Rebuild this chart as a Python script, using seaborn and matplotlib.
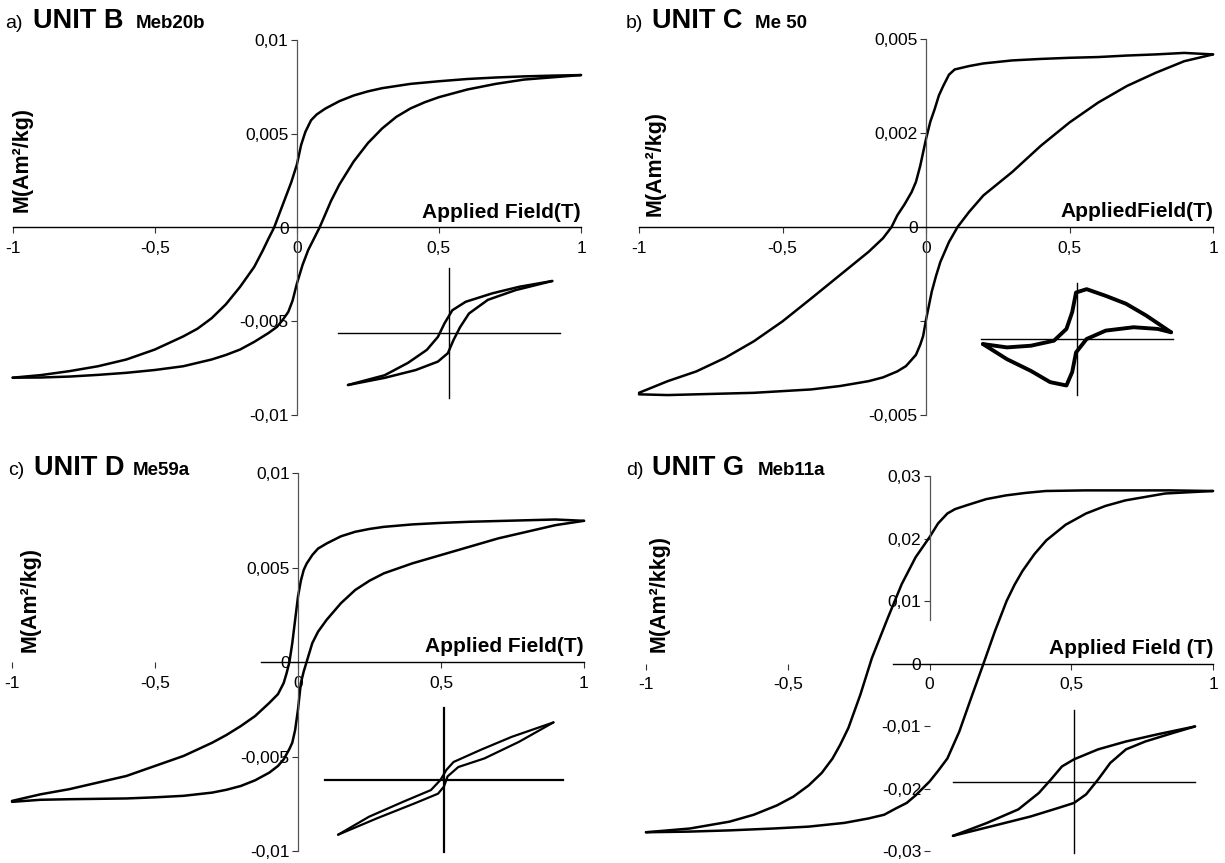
import matplotlib
matplotlib.use("Agg")
import matplotlib.pyplot as plt
import numpy as np
import pandas as pd
import seaborn as sns

sns.set_style("white")
plt.rcParams["font.family"] = ["Liberation Sans", "DejaVu Sans"]
plt.rcParams["text.color"] = "black"
plt.rcParams["xtick.color"] = "black"
plt.rcParams["ytick.color"] = "black"

# ---------------- data ----------------
x_ticks = [-1, -0.5, 0, 0.5, 1]
x_tick_labels = ["-1", "-0,5", "0", "0,5", "1"]

# Panel a) UNIT B Meb20b
a_up_H = [1.0, 0.9, 0.8, 0.7, 0.6, 0.5, 0.4, 0.3, 0.25, 0.2, 0.15, 0.1, 0.07, 0.05, 0.03,
          0.015, 0.0, -0.02, -0.04, -0.06, -0.08, -0.1, -0.12, -0.15, -0.2, -0.25, -0.3,
          -0.35, -0.4, -0.5, -0.6, -0.7, -0.8, -0.9, -1.0]
a_up_M = [0.00813, 0.0081, 0.00806, 0.008, 0.00792, 0.0078, 0.00766, 0.00743, 0.00726,
          0.00704, 0.00674, 0.00634, 0.00603, 0.00572, 0.0051, 0.0044, 0.00335, 0.0024,
          0.0016, 0.0008, 0.0, -0.0006, -0.00123, -0.0021, -0.00317, -0.0041, -0.00484,
          -0.0054, -0.00581, -0.00651, -0.00704, -0.0074, -0.00766, -0.00787, -0.00801]
a_lo_H = [-1.0, -0.9, -0.8, -0.7, -0.6, -0.5, -0.4, -0.3, -0.25, -0.2, -0.15, -0.1, -0.07,
          -0.05, -0.03, -0.015, 0.0, 0.02, 0.04, 0.06, 0.08, 0.1, 0.12, 0.15, 0.2, 0.25, 0.3,
          0.35, 0.4, 0.45, 0.5, 0.6, 0.7, 0.8, 0.9, 1.0]
a_lo_M = [-0.00801, -0.008, -0.00795, -0.00786, -0.00775, -0.0076, -0.0074, -0.00704,
          -0.0068, -0.00651, -0.0061, -0.00563, -0.0053, -0.00493, -0.0045, -0.0039, -0.003,
          -0.002, -0.0012, -0.0006, 0.0, 0.0007, 0.00141, 0.0023, 0.00352, 0.0045, 0.00528,
          0.0059, 0.00635, 0.00668, 0.00695, 0.00736, 0.00766, 0.00789, 0.00801, 0.00813]
a_in_up_x = [-0.91, -0.58, -0.37, -0.20, -0.10, -0.04, 0.03, 0.15, 0.39, 0.63, 0.93]
a_in_up_y = [-0.80, -0.65, -0.46, -0.26, -0.06, 0.15, 0.35, 0.48, 0.61, 0.71, 0.80]
a_in_lo_x = [-0.91, -0.58, -0.30, -0.10, -0.01, 0.04, 0.10, 0.18, 0.35, 0.60, 0.93]
a_in_lo_y = [-0.80, -0.69, -0.57, -0.44, -0.31, -0.11, 0.09, 0.30, 0.51, 0.66, 0.80]
a_y_ticks = [0.01, 0.005, 0, -0.005, -0.01]
a_y_labels = ["0,01", "0,005", "0", "-0,005", "-0,01"]

# Panel b) UNIT C Me 50
b_up_H = [1.0, 0.9, 0.8, 0.7, 0.6, 0.5, 0.4, 0.3, 0.2, 0.15, 0.1, 0.08, 0.06, 0.045, 0.03,
          0.015, 0.0, -0.02, -0.035, -0.05, -0.075, -0.1, -0.12, -0.15, -0.2, -0.3, -0.4,
          -0.5, -0.6, -0.7, -0.8, -0.9, -1.0]
b_up_M = [0.00459, 0.00463, 0.00459, 0.00456, 0.00452, 0.0045, 0.00447, 0.00443, 0.00435,
          0.00428, 0.00419, 0.00405, 0.00375, 0.0035, 0.00313, 0.0028, 0.00234, 0.00163,
          0.0012, 0.00093, 0.0006, 0.00031, 0.0, -0.0003, -0.00066, -0.00128, -0.0019,
          -0.00251, -0.00304, -0.00348, -0.00384, -0.0041, -0.00441]
b_lo_H = [-1.0, -0.9, -0.8, -0.6, -0.4, -0.3, -0.2, -0.15, -0.1, -0.07, -0.05, -0.035, -0.02,
          -0.01, 0.0, 0.02, 0.035, 0.05, 0.08, 0.11, 0.15, 0.2, 0.25, 0.3, 0.4, 0.5, 0.6, 0.7,
          0.8, 0.9, 1.0]
b_lo_M = [-0.00445, -0.00447, -0.00445, -0.00441, -0.00432, -0.00423, -0.0041, -0.004,
          -0.00384, -0.0037, -0.00353, -0.0034, -0.00313, -0.0029, -0.00247, -0.00172,
          -0.0013, -0.00093, -0.0004, 0.0, 0.0004, 0.00084, 0.00115, 0.00146, 0.00216,
          0.00278, 0.00331, 0.00375, 0.0041, 0.00441, 0.00459]
b_in_up_x = [-0.98, -0.73, -0.48, -0.24, -0.11, -0.05, -0.01, 0.10, 0.30, 0.51, 0.72, 0.98]
b_in_up_y = [-0.09, -0.15, -0.12, -0.03, 0.18, 0.48, 0.83, 0.89, 0.77, 0.63, 0.42, 0.12]
b_in_lo_x = [-0.98, -0.73, -0.48, -0.28, -0.11, -0.05, -0.01, 0.10, 0.30, 0.59, 0.84, 0.98]
b_in_lo_y = [-0.09, -0.36, -0.57, -0.77, -0.83, -0.59, -0.24, 0.0, 0.15, 0.21, 0.18, 0.12]
b_y_ticks = [0.005, 0.0025, 0, -0.0025, -0.005]
b_y_labels = ["0,005", "0,002", "0", "", "-0,005"]

# Panel c) UNIT D Me59a
c_up_H = [1.0, 0.9, 0.8, 0.7, 0.6, 0.5, 0.4, 0.3, 0.25, 0.2, 0.15, 0.1, 0.07, 0.05, 0.03,
          0.02, 0.01, 0.0, -0.01, -0.02, -0.03, -0.04, -0.05, -0.07, -0.1, -0.15, -0.2,
          -0.25, -0.3, -0.4, -0.5, -0.6, -0.7, -0.8, -0.9, -1.0]
c_up_M = [0.00747, 0.00754, 0.0075, 0.00746, 0.00742, 0.00736, 0.00728, 0.00715, 0.00704,
          0.00689, 0.00665, 0.00627, 0.006, 0.00566, 0.0052, 0.00487, 0.0043, 0.00346,
          0.00223, 0.001, 0.0, -0.0006, -0.00111, -0.0017, -0.00216, -0.00286, -0.00339,
          -0.00386, -0.00427, -0.00497, -0.0055, -0.00603, -0.00638, -0.00673, -0.007,
          -0.00735]
c_lo_H = [-1.0, -0.9, -0.8, -0.7, -0.6, -0.5, -0.4, -0.3, -0.25, -0.2, -0.15, -0.1, -0.07,
          -0.05, -0.03, -0.02, -0.01, 0.0, 0.01, 0.02, 0.03, 0.05, 0.07, 0.1, 0.15, 0.2,
          0.25, 0.3, 0.4, 0.5, 0.6, 0.7, 0.8, 0.9, 1.0]
c_lo_M = [-0.0074, -0.00729, -0.00726, -0.00724, -0.00722, -0.00716, -0.00708, -0.00691,
          -0.00676, -0.00656, -0.00626, -0.00585, -0.0055, -0.00515, -0.0046, -0.00427,
          -0.0036, -0.00251, -0.00111, -0.0005, 0.0, 0.001, 0.0016, 0.00223, 0.00311,
          0.00381, 0.0043, 0.00469, 0.00522, 0.00566, 0.0061, 0.00654, 0.00689, 0.00724,
          0.00747]
c_in_up_x = [-0.89, -0.63, -0.34, -0.11, -0.03, 0.02, 0.08, 0.31, 0.57, 0.92]
c_in_up_y = [-0.76, -0.51, -0.30, -0.14, 0.0, 0.14, 0.25, 0.42, 0.60, 0.80]
c_in_lo_x = [-0.89, -0.56, -0.24, -0.05, 0.0, 0.03, 0.12, 0.34, 0.63, 0.92]
c_in_lo_y = [-0.76, -0.53, -0.32, -0.19, -0.09, 0.05, 0.18, 0.30, 0.53, 0.80]
c_y_ticks = [0.01, 0.005, 0, -0.005, -0.01]
c_y_labels = ["0,01", "0,005", "0", "-0,005", "-0,01"]

# Panel d) UNIT G Meb11a
d_up_H = [1.0, 0.85, 0.69, 0.55, 0.41, 0.34, 0.27, 0.2, 0.13, 0.09, 0.063, 0.03, 0.0,
          -0.049, -0.098, -0.147, -0.203, -0.244, -0.286, -0.315, -0.342, -0.38, -0.426,
          -0.48, -0.538, -0.62, -0.705, -0.845, -1.0]
d_up_M = [0.0276, 0.0277, 0.0277, 0.0277, 0.0276, 0.0273, 0.0269, 0.0263, 0.0253, 0.0247,
          0.024, 0.0224, 0.0202, 0.017, 0.0127, 0.0073, 0.0009, -0.005, -0.0103, -0.013,
          -0.0152, -0.0175, -0.0195, -0.0213, -0.0227, -0.0242, -0.0253, -0.0264, -0.027]
d_lo_H = [-1.0, -0.85, -0.705, -0.55, -0.426, -0.3, -0.216, -0.16, -0.119, -0.08, -0.049,
          0.0, 0.03, 0.063, 0.105, 0.147, 0.189, 0.231, 0.272, 0.3, 0.328, 0.37, 0.412, 0.48,
          0.552, 0.62, 0.691, 0.831, 1.0]
d_lo_M = [-0.027, -0.0269, -0.0267, -0.0264, -0.0261, -0.0255, -0.0248, -0.0242, -0.0232,
          -0.0223, -0.0211, -0.0189, -0.0172, -0.0152, -0.0109, -0.0055, -0.0002, 0.0052,
          0.01, 0.0126, 0.0148, 0.0175, 0.0197, 0.0222, 0.024, 0.0252, 0.0261, 0.0272,
          0.0276]
d_in_up_x = [-1.0, -0.72, -0.46, -0.29, -0.19, -0.10, 0.0, 0.20, 0.43, 0.69, 1.0]
d_in_up_y = [-0.76, -0.58, -0.39, -0.16, 0.03, 0.21, 0.31, 0.45, 0.56, 0.66, 0.77]
d_in_lo_x = [-1.0, -0.69, -0.36, -0.13, 0.0, 0.10, 0.20, 0.30, 0.43, 0.59, 0.82, 1.0]
d_in_lo_y = [-0.76, -0.63, -0.49, -0.37, -0.30, -0.18, 0.03, 0.26, 0.45, 0.56, 0.68, 0.77]
d_y_ticks = [0.03, 0.02, 0.01, 0, -0.01, -0.02, -0.03]
d_y_labels = ["0,03", "0,02", "0,01", "0", "-0,01", "-0,02", "-0,03"]

# ---------------- layout ----------------
W, H = 1225, 863
fig = plt.figure(figsize=(W / 100, H / 100), dpi=100)


def box(l, r, t, b):
    return [l / W, 1 - b / H, (r - l) / W, (b - t) / H]


def fpos(x, y):
    return x / W, 1 - y / H


def loop_df(x1, y1, x2, y2):
    return pd.DataFrame({"x": list(x1) + list(x2), "y": list(y1) + list(y2),
                         "branch": ["up"] * len(x1) + ["low"] * len(x2)})


def main_panel(rect, uh, um, lh, lm, ylim, yticks, ylabels, xlab,
               xbounds=None, ybounds=None):
    ax = fig.add_axes(rect)
    ax.patch.set_alpha(0)
    sns.lineplot(data=loop_df(uh, um, lh, lm), x="x", y="y", units="branch",
                 estimator=None, sort=False, color="black", lw=1.8, ax=ax,
                 legend=False)
    for ln in ax.lines:
        ln.set_clip_on(False)
        ln.set_solid_joinstyle("round")
    ax.set_xlim(-1, 1)
    ax.set_ylim(*ylim)
    ax.set_xlabel("")
    ax.set_ylabel("")
    ax.spines["left"].set_position(("data", 0))
    ax.spines["bottom"].set_position(("data", 0))
    ax.spines["top"].set_visible(False)
    ax.spines["right"].set_visible(False)
    ax.spines["left"].set_color("#555555")
    ax.spines["left"].set_linewidth(0.9)
    ax.spines["bottom"].set_color("black")
    ax.spines["bottom"].set_linewidth(1.0)
    if xbounds:
        ax.spines["bottom"].set_bounds(*xbounds)
    if ybounds:
        ax.spines["left"].set_bounds(*ybounds)
    ax.set_xticks(x_ticks)
    ax.set_xticklabels(x_tick_labels)
    ax.set_yticks(yticks)
    ax.set_yticklabels(ylabels)
    ax.tick_params(axis="both", which="major", direction="out", length=4,
                   width=0.8, labelsize=12.5, color="#333333",
                   labelcolor="black", left=True, bottom=True)
    ax.tick_params(axis="x", pad=6)
    ax.tick_params(axis="y", pad=2)
    ax.annotate(xlab, xy=(1, 0), xycoords="data", xytext=(0, 4),
                textcoords="offset points", ha="right", va="bottom",
                fontsize=15, fontweight="bold")
    return ax


def inset(rect, ux, uy, lx, ly, lw_loop=1.8, lw_axis=1.0):
    ax = fig.add_axes(rect)
    ax.patch.set_alpha(0)
    sns.lineplot(data=loop_df(ux, uy, lx, ly), x="x", y="y", units="branch",
                 estimator=None, sort=False, color="black", lw=lw_loop, ax=ax,
                 legend=False)
    for ln in ax.lines:
        ln.set_clip_on(False)
        ln.set_solid_joinstyle("round")
    ax.set_xlim(-1, 1)
    ax.set_ylim(-1, 1)
    ax.set_xlabel("")
    ax.set_ylabel("")
    ax.set_xticks([])
    ax.set_yticks([])
    ax.spines["left"].set_position(("data", 0))
    ax.spines["bottom"].set_position(("data", 0))
    ax.spines["top"].set_visible(False)
    ax.spines["right"].set_visible(False)
    for s in ("left", "bottom"):
        ax.spines[s].set_color("black")
        ax.spines[s].set_linewidth(lw_axis)
    return ax


def title(x0, y0, letter, unit, sample, x_unit, x_sample):
    fig.text(*fpos(x0, y0), letter, fontsize=14, va="baseline", ha="left")
    fig.text(*fpos(x_unit, y0), unit, fontsize=19.5, fontweight="bold",
             va="baseline", ha="left")
    fig.text(*fpos(x_sample, y0), sample, fontsize=13.5, fontweight="bold",
             va="baseline", ha="left")


def ylab(x, y, text):
    fig.text(*fpos(x, y), text, rotation=90, fontsize=15.5, fontweight="bold",
             ha="center", va="bottom")


# Panel a
main_panel(box(12.7, 581, 40, 415), a_up_H, a_up_M, a_lo_H, a_lo_M,
           (-0.01, 0.01), a_y_ticks, a_y_labels, "Applied Field(T)")
inset(box(338, 560, 268, 398), a_in_up_x, a_in_up_y, a_in_lo_x, a_in_lo_y)
title(5, 28, "a)", "UNIT B", "Meb20b", 33, 136)
ylab(22, 212, "M(Am²/kg)")

# Panel b
main_panel(box(639, 1213, 39, 415), b_up_H, b_up_M, b_lo_H, b_lo_M,
           (-0.005, 0.005), b_y_ticks, b_y_labels, "AppliedField(T)")
inset(box(981, 1173, 283, 395), b_in_up_x, b_in_up_y, b_in_lo_x, b_in_lo_y,
      lw_loop=2.8, lw_axis=1.0)
title(626, 28, "b)", "UNIT C", "Me 50", 652, 755)
ylab(655, 216, "M(Am²/kg)")

# Panel c
main_panel(box(12, 584, 473, 851), c_up_H, c_up_M, c_lo_H, c_lo_M,
           (-0.01, 0.01), c_y_ticks, c_y_labels, "Applied Field(T)",
           xbounds=(-0.13, 1))
inset(box(325, 563, 708, 852), c_in_up_x, c_in_up_y, c_in_lo_x, c_in_lo_y,
      lw_loop=1.6, lw_axis=1.6)
title(8, 475, "c)", "UNIT D", "Me59a", 34, 133)
ylab(30, 652, "M(Am²/kg)")

# Panel d
main_panel(box(646, 1213, 476, 851), d_up_H, d_up_M, d_lo_H, d_lo_M,
           (-0.03, 0.03), d_y_ticks, d_y_labels, "Applied Field (T)",
           xbounds=(-0.13, 1), ybounds=(0.007, 0.03))
inset(box(953, 1195, 710, 853), d_in_up_x, d_in_up_y, d_in_lo_x, d_in_lo_y)
title(626, 475, "d)", "UNIT G", "Meb11a", 652, 758)
ylab(659, 652, "M(Am²/kkg)")

fig.savefig("out.png", dpi=100)
